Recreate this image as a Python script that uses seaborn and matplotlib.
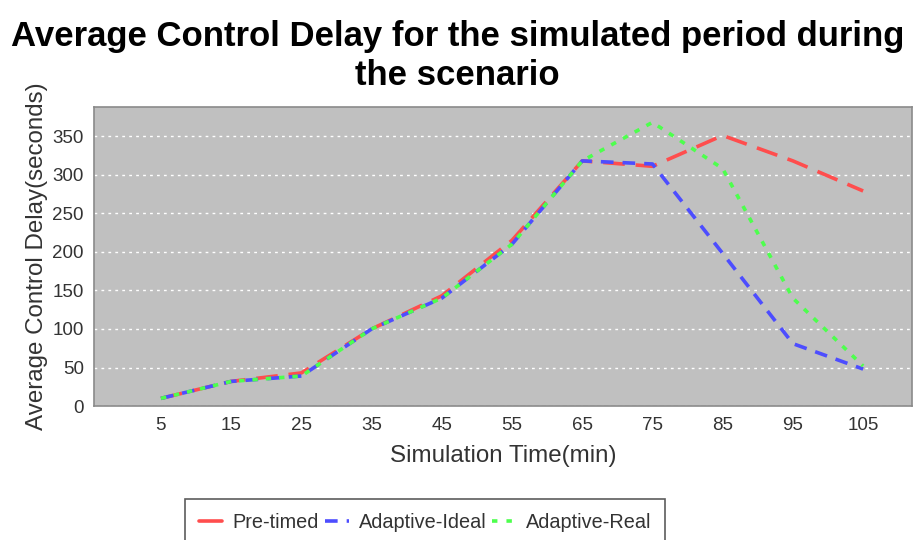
import pandas as pd
import numpy as np
import matplotlib.pyplot as plt
import seaborn as sns

# values
sim_time = [5, 15, 25, 35, 45, 55, 65, 75, 85, 95, 105]
pre_timed = [10, 32, 43, 100, 143, 215, 318, 311, 351, 318, 279]
adaptive_ideal = [10, 32, 39, 100, 140, 210, 318, 314, 198, 81, 48]
adaptive_real = [10, 32, 39, 100, 140, 210, 318, 368, 308, 140, 52]

series_names = ['Pre-timed', 'Adaptive-Ideal', 'Adaptive-Real']
colors = ['#ff4d4d', '#4d4dff', '#4dff4d']
dash_map = {'Pre-timed': (6, 3), 'Adaptive-Ideal': (3.5, 2.5), 'Adaptive-Real': (1.5, 2.2)}

df = pd.DataFrame({
    'time': sim_time,
    'Pre-timed': pre_timed,
    'Adaptive-Ideal': adaptive_ideal,
    'Adaptive-Real': adaptive_real,
})
long_df = df.melt(id_vars='time', var_name='series', value_name='delay')

sns.set_style('white')
plt.rcParams['font.family'] = ['Liberation Sans', 'DejaVu Sans']

fig = plt.figure(figsize=(9.15, 5.4), dpi=100)
ax = fig.add_axes([0.103, 0.248, 0.894, 0.554])

sns.lineplot(data=long_df, x='time', y='delay', hue='series', style='series',
             hue_order=series_names, style_order=series_names,
             palette=dict(zip(series_names, colors)), dashes=dash_map,
             linewidth=2.6, ax=ax, legend=False)

ax.set_facecolor('#c0c0c0')
for s in ax.spines.values():
    s.set_color('#8a8a8a')
    s.set_linewidth(1.2)

ax.set_xlim(-4.5, 112)
ax.set_ylim(0, 388)
ax.set_xticks(sim_time)
ax.set_yticks(range(0, 351, 50))
ax.yaxis.grid(True, color='white', linestyle=(0, (2, 3)), linewidth=1)
ax.xaxis.grid(False)
ax.set_axisbelow(True)
ax.tick_params(axis='both', labelsize=13.5, colors='#8a8a8a', labelcolor='#333333',
               length=4, width=1, direction='out')
ax.tick_params(axis='x', length=0, pad=8)

ax.set_xlabel('Simulation Time(min)', fontsize=17.4, color='#333333', labelpad=8)
ax.set_ylabel('Average Control Delay(seconds)', fontsize=17.4, color='#333333', labelpad=3)

fig.suptitle('Average Control Delay for the simulated period during\nthe scenario',
             fontsize=25, fontweight='bold', y=0.963, linespacing=1.25, color='black')

handles = [plt.Line2D([], [], color=colors[0], lw=2.6),
           plt.Line2D([], [], color=colors[1], lw=2.6, dashes=(3.5, 2.5)),
           plt.Line2D([], [], color=colors[2], lw=2.6, dashes=(1.5, 2.5))]
leg = fig.legend(handles, series_names, loc='upper center', bbox_to_anchor=(0.4645, 0.076),
                 ncol=3, frameon=True, fancybox=False, fontsize=14.3, handlelength=1.2,
                 handletextpad=0.5, columnspacing=0.3, borderpad=0.7, borderaxespad=0)
leg.get_frame().set_edgecolor('#333333')
leg.get_frame().set_linewidth(1.2)
for t in leg.get_texts():
    t.set_color('#333333')

fig.savefig('out.png', dpi=100)
